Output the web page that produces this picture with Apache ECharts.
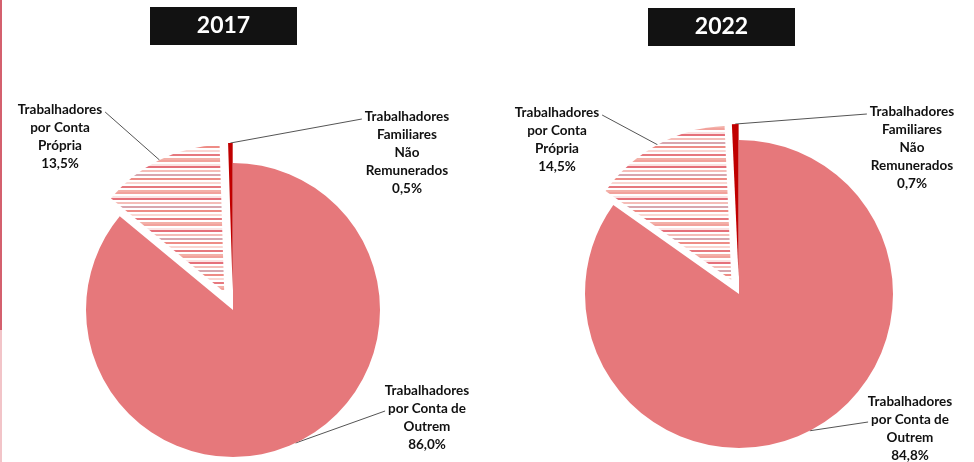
<!DOCTYPE html>
<html>
<head>
<meta charset="utf-8">
<script src="https://cdn.jsdelivr.net/npm/echarts@6/dist/echarts.min.js"></script>
<style>
html,body{margin:0;padding:0;background:#fff;}
#chart{width:974px;height:462px;}
</style>
</head>
<body>
<div id="chart"></div>
<script>
// ---- data ----
var years = ['2017', '2022'];
var categories = [
  'Trabalhadores\npor Conta de\nOutrem',
  'Trabalhadores\npor Conta\nPrópria',
  'Trabalhadores\nFamiliares\nNão\nRemunerados'
];
var values2017 = [86.0, 13.5, 0.5];
var values2022 = [84.8, 14.5, 0.7];

// ---- styling ----
function stripePattern() {
  var rows = ['#f2a29c', '#ffffff', '#fbe3e3', '#e5707a', '#ffffff', '#f5bdb8',
              '#ffffff', '#d8a6ae', '#ffffff', '#ee8c86', '#ffffff', '#fad6d2',
              '#ffffff', '#e6787e', '#ffffff', '#f3b0a8'];
  var c = document.createElement('canvas');
  c.width = 8; c.height = rows.length * 2;
  var ctx = c.getContext('2d');
  for (var i = 0; i < rows.length; i++) {
    ctx.fillStyle = rows[i];
    ctx.fillRect(0, i * 2, 8, 2);
  }
  return { image: c, repeat: 'repeat' };
}
var sliceColors = ['#e6787b', stripePattern(), '#c00000'];
var FONT = 'Lato, "Open Sans", sans-serif';
var FONT_SIZE = 13.5;
var LINE_H = 18;

function fmt(v) { return v.toFixed(1).replace('.', ',') + '%'; }

var measureCtx = document.createElement('canvas').getContext('2d');
function textWidth(t) {
  measureCtx.font = 'bold ' + FONT_SIZE + 'px ' + FONT;
  return measureCtx.measureText(t).width;
}

// label placement per pie: [outrem, propria, familiares] -> [centerX, topY]
var labelPos = [
  [[427, 382], [60, 101], [407, 108]],
  [[910, 393], [557, 104], [912, 103]]
];
// which text line of each label the leader line attaches to
var lineAttach = [1, 0, 0];
var pies = [
  { vals: values2017, center: [233, 310], radius: 147, explode: [0, 20, 20] },
  { vals: values2022, center: [739, 294], radius: 154, explode: [0, 16, 16] }
];

// one series per visible slice so that each slice can be pulled out
function sliceSeries(pi, k) {
  var p = pies[pi];
  var vals = p.vals;
  var total = vals.reduce(function (a, b) { return a + b; }, 0);
  var before = 0;
  for (var i = 0; i < k; i++) before += vals[i];
  var mid = 2 * Math.PI * (before + vals[k] / 2) / total;
  var off = p.explode[k];
  var center = [p.center[0] + off * Math.sin(mid), p.center[1] - off * Math.cos(mid)];
  return {
    type: 'pie',
    center: center,
    radius: p.radius,
    startAngle: 90,
    clockwise: true,
    animation: false,
    silent: true,
    avoidLabelOverlap: false,
    emphasis: { disabled: true },
    data: categories.map(function (c, i) {
      var vis = i === k;
      return {
        name: c, value: vals[i],
        itemStyle: { color: vis ? sliceColors[i] : 'rgba(0,0,0,0)', borderWidth: 0 },
        label: { show: vis },
        labelLine: { show: vis }
      };
    }),
    label: {
      position: 'outside',
      formatter: function (q) { return q.name + '\n' + fmt(q.value); },
      fontFamily: FONT,
      fontWeight: 'bold',
      fontSize: FONT_SIZE,
      lineHeight: LINE_H,
      color: '#111',
      align: 'center',
      width: 96,
      overflow: 'none'
    },
    labelLine: {
      length: 10,
      length2: 10,
      lineStyle: { color: '#555', width: 1 }
    },
    labelLayout: function (q) {
      var pos = labelPos[pi][q.dataIndex];
      var res = { x: pos[0], y: pos[1], align: 'center', verticalAlign: 'top' };
      var pts = q.labelLinePoints;
      if (pts && pts.length) {
        var a = pts[0];
        var li = lineAttach[q.dataIndex];
        var lineText = categories[q.dataIndex].split('\n')[li];
        var hw = textWidth(lineText) / 2 + 3;
        var ex = a[0] < pos[0] ? pos[0] - hw : pos[0] + hw;
        var ey = pos[1] + LINE_H * li + LINE_H / 2 + 2;
        res.labelLinePoints = [[a[0], a[1]], [ex, ey]];
      }
      return res;
    }
  };
}

var series = [];
for (var pi = 0; pi < pies.length; pi++) {
  for (var k = 0; k < categories.length; k++) series.push(sliceSeries(pi, k));
}

var chart = echarts.init(document.getElementById('chart'), null, { renderer: 'canvas' });
chart.setOption({
  backgroundColor: '#ffffff',
  animation: false,
  graphic: [
    { type: 'rect', shape: { x: 0, y: 0, width: 2, height: 330 }, style: { fill: '#d4606e' } },
    { type: 'rect', shape: { x: 0, y: 330, width: 2, height: 132 }, style: { fill: '#f2c4c8' } },
    { type: 'rect', shape: { x: 150, y: 7, width: 147, height: 38 }, style: { fill: '#121212' } },
    { type: 'text', x: 223.5, y: 26, style: { text: years[0], fill: '#fff', font: 'bold 23px ' + FONT, align: 'center', verticalAlign: 'middle' } },
    { type: 'rect', shape: { x: 648, y: 8, width: 147, height: 38 }, style: { fill: '#121212' } },
    { type: 'text', x: 721.5, y: 27, style: { text: years[1], fill: '#fff', font: 'bold 23px ' + FONT, align: 'center', verticalAlign: 'middle' } }
  ],
  series: series
});
</script>
</body>
</html>
